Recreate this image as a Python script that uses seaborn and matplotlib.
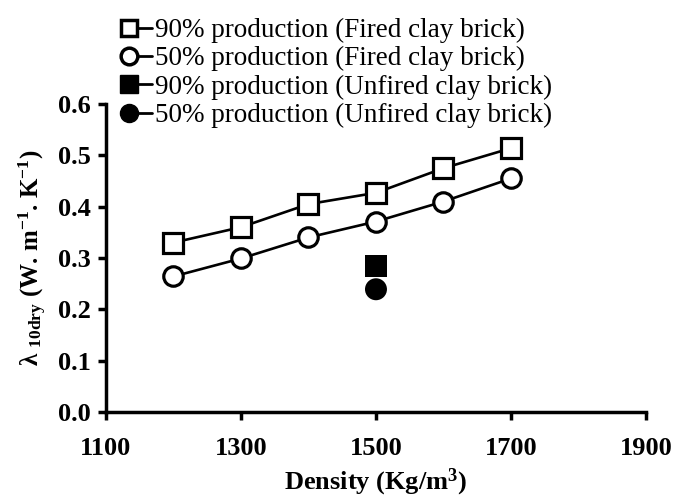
import numpy as np
import pandas as pd
import seaborn as sns
import matplotlib.pyplot as plt
from matplotlib.lines import Line2D
from matplotlib.legend_handler import HandlerLine2D

# data
density = [1200, 1300, 1400, 1500, 1600, 1700]
fired_90 = [0.33, 0.36, 0.405, 0.427, 0.475, 0.514]
fired_50 = [0.264, 0.299, 0.340, 0.371, 0.410, 0.455]
unfired_density = [1500]
unfired_90 = [0.285]
unfired_50 = [0.239]
labels = ['90% production (Fired clay brick)',
          '50% production (Fired clay brick)',
          '90% production (Unfired clay brick)',
          '50% production (Unfired clay brick)']

sns.set_style('ticks', {'axes.edgecolor': 'black', 'text.color': 'black',
                        'xtick.color': 'black', 'ytick.color': 'black',
                        'axes.labelcolor': 'black'})
plt.rcParams['font.family'] = ['Liberation Serif', 'DejaVu Serif']
plt.rcParams['mathtext.fontset'] = 'custom'
plt.rcParams['mathtext.rm'] = 'Liberation Serif:bold'
plt.rcParams['mathtext.it'] = 'Liberation Serif:bold'
plt.rcParams['mathtext.bf'] = 'Liberation Serif:bold'
plt.rcParams['mathtext.default'] = 'regular'


# legend entry: marker on the left end, line going right to the text
class LeftMarker(HandlerLine2D):
    def create_artists(self, legend, orig_handle, xdescent, ydescent,
                       width, height, fontsize, trans):
        arts = super().create_artists(legend, orig_handle, xdescent, ydescent,
                                      width, height, fontsize, trans)
        for a in arts:
            a.set_markevery([0])
        return arts


fired = pd.DataFrame({
    'density': density * 2,
    'lam': fired_90 + fired_50,
    'series': [labels[0]] * len(density) + [labels[1]] * len(density),
})
unfired = pd.DataFrame({
    'density': unfired_density * 2,
    'lam': unfired_90 + unfired_50,
    'series': [labels[2], labels[3]],
})

fig = plt.figure(figsize=(6.75, 4.98), dpi=100)
ax = fig.add_axes([0.157, 0.173, 0.8, 0.618])

sns.lineplot(data=fired, x='density', y='lam', hue='series', style='series',
             markers={labels[0]: 's', labels[1]: 'o'}, dashes=False,
             palette={labels[0]: 'black', labels[1]: 'black'},
             markersize=14, markerfacecolor='white', markeredgecolor='black',
             markeredgewidth=2.3, linewidth=1.9, legend=False, ax=ax, zorder=3)
sns.scatterplot(data=unfired, x='density', y='lam', hue='series', style='series',
                markers={labels[2]: 's', labels[3]: 'o'},
                palette={labels[2]: 'black', labels[3]: 'black'},
                s=250, linewidth=0, legend=False, ax=ax, zorder=4, clip_on=False)

ax.set_xlim(1100, 1900)
ax.set_ylim(0, 0.6)
ax.set_xticks([1100, 1300, 1500, 1700, 1900])
ax.set_yticks(np.arange(0, 0.61, 0.1))
ax.set_yticklabels([f'{v:.1f}' for v in np.arange(0, 0.61, 0.1)])
for s in ['top', 'right']:
    ax.spines[s].set_visible(False)
for s in ['left', 'bottom']:
    ax.spines[s].set_linewidth(2.5)
ax.tick_params(width=2.5, length=6, labelsize=19)
ax.tick_params(axis='x', pad=12)
ax.tick_params(axis='y', pad=5)
for t in ax.get_xticklabels() + ax.get_yticklabels():
    t.set_fontweight('bold')

ax.set_xlabel('Density (Kg/m$^{3}$)', fontsize=19, fontweight='bold', labelpad=5)
ax.set_ylabel(r'λ $_{10dry}$ (W. m$^{-1}$. K$^{-1}$)', fontsize=18,
              fontweight='bold', labelpad=6)

handles = [
    Line2D([], [], color='black', lw=2, marker='s', ms=12, mfc='white', mew=2.5),
    Line2D([], [], color='black', lw=2, marker='o', ms=12, mfc='white', mew=2.5),
    Line2D([], [], color='black', lw=2, marker='s', ms=13, mfc='black'),
    Line2D([], [], color='black', lw=2, marker='o', ms=13, mfc='black'),
]
fig.legend(handles, labels, loc='upper left', bbox_to_anchor=(0.191, 0.964),
           frameon=False, fontsize=19.5, handlelength=0.85, handletextpad=0.12,
           labelspacing=0.12, borderpad=0, borderaxespad=0, numpoints=2,
           handler_map={Line2D: LeftMarker(marker_pad=0)})

fig.savefig('out.png', dpi=100)
